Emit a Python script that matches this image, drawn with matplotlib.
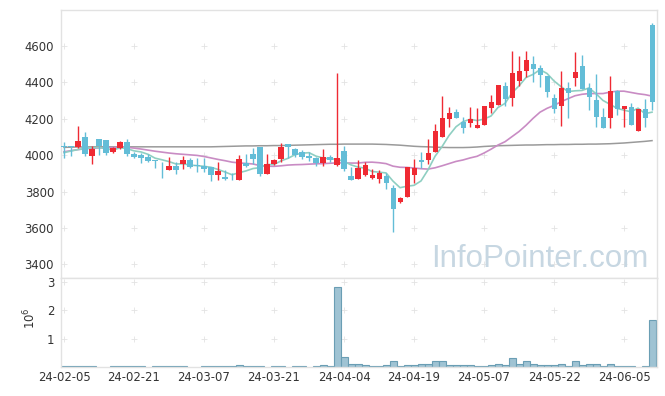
import matplotlib
matplotlib.use("Agg")
import matplotlib.pyplot as plt
import numpy as np

dates = ("24-02-05 24-02-06 24-02-07 24-02-08 24-02-13 24-02-14 24-02-15 24-02-16 24-02-19 24-02-20 "
         "24-02-21 24-02-22 24-02-23 24-02-26 24-02-27 24-02-28 24-02-29 24-03-04 24-03-05 24-03-06 "
         "24-03-07 24-03-08 24-03-11 24-03-12 24-03-13 24-03-14 24-03-15 24-03-18 24-03-19 24-03-20 "
         "24-03-21 24-03-22 24-03-25 24-03-26 24-03-27 24-03-28 24-03-29 24-04-01 24-04-02 24-04-03 "
         "24-04-04 24-04-05 24-04-08 24-04-09 24-04-11 24-04-12 24-04-15 24-04-16 24-04-17 24-04-18 "
         "24-04-19 24-04-22 24-04-23 24-04-24 24-04-25 24-04-26 24-04-29 24-04-30 24-05-02 24-05-03 "
         "24-05-07 24-05-08 24-05-09 24-05-10 24-05-13 24-05-14 24-05-16 24-05-17 24-05-20 24-05-21 "
         "24-05-22 24-05-23 24-05-24 24-05-27 24-05-28 24-05-29 24-05-30 24-05-31 24-06-03 24-06-04 "
         "24-06-05 24-06-07 24-06-10 24-06-11 24-06-12").split()

opens = [4050, 4051, 4042, 4100, 3996, 4088, 4082, 4018, 4037, 4069,
         4005, 4000, 3987, 3971, 3963, 3918, 3940, 3949, 3973, 3945,
         3942, 3932, 3890, 3878, 3870, 3863, 3958, 4005, 4042, 3896,
         3951, 3978, 4060, 4033, 4015, 3996, 3982, 3958, 3987, 3945,
         4022, 3885, 3868, 3890, 3876, 3868, 3885, 3817, 3744, 3768,
         3890, 3971, 3973, 4018, 4097, 4199, 4234, 4183, 4177, 4150,
         4164, 4259, 4274, 4378, 4315, 4406, 4460, 4499, 4475, 4433,
         4311, 4269, 4365, 4420, 4488, 4365, 4301, 4206, 4201, 4353,
         4250, 4265, 4133, 4252, 4713]
highs = [4069, 4051, 4159, 4126, 4051, 4088, 4082, 4046, 4079, 4088,
         4018, 4013, 4005, 3971, 3963, 3987, 3963, 3995, 3982, 3982,
         3982, 3936, 3960, 3918, 3900, 4000, 4005, 4037, 4046, 4005,
         3980, 4064, 4060, 4037, 4027, 4018, 3991, 4033, 4000, 4451,
         4051, 3936, 3973, 3963, 3921, 3918, 3900, 3836, 3768, 3932,
         3976, 4018, 4086, 4168, 4325, 4265, 4250, 4210, 4263, 4260,
         4269, 4330, 4384, 4400, 4568, 4543, 4571, 4543, 4493, 4433,
         4332, 4460, 4402, 4563, 4548, 4396, 4444, 4256, 4433, 4356,
         4269, 4283, 4250, 4307, 4722]
lows = [3982, 3995, 4040, 3995, 3949, 4000, 4000, 4009, 4033, 3996,
        3982, 3954, 3960, 3927, 3872, 3918, 3896, 3921, 3927, 3909,
        3905, 3859, 3863, 3863, 3863, 3863, 3932, 3951, 3887, 3896,
        3945, 3960, 3982, 3991, 3976, 3969, 3942, 3942, 3963, 3942,
        3914, 3863, 3868, 3887, 3868, 3845, 3812, 3580, 3735, 3768,
        3845, 3927, 3951, 4018, 4097, 4152, 4201, 4119, 4155, 4148,
        4164, 4228, 4274, 4269, 4269, 4376, 4429, 4399, 4371, 4320,
        4228, 4161, 4205, 4378, 4360, 4247, 4155, 4150, 4150, 4219,
        4155, 4164, 4133, 4155, 4247]
closes = [4042, 4042, 4077, 4005, 4033, 4049, 4013, 4037, 4069, 4005,
          3991, 3985, 3969, 3967, 3960, 3940, 3918, 3973, 3936, 3942,
          3923, 3890, 3914, 3868, 3867, 3976, 3942, 3976, 3896, 3951,
          3973, 4046, 4042, 4000, 3991, 3985, 3954, 3991, 3973, 3982,
          3923, 3863, 3927, 3945, 3890, 3903, 3845, 3704, 3762, 3932,
          3927, 3963, 4009, 4132, 4201, 4228, 4205, 4150, 4196, 4164,
          4269, 4292, 4384, 4307, 4451, 4460, 4521, 4471, 4438, 4347,
          4252, 4365, 4338, 4457, 4360, 4320, 4206, 4150, 4353, 4250,
          4269, 4164, 4250, 4201, 4292]

ma5 = [4013, 4022, 4030, 4036, 4040, 4041, 4035, 4027, 4040, 4035,
       4023, 4017, 4004, 3983, 3974, 3964, 3951, 3952, 3945, 3942,
       3938, 3933, 3921, 3907, 3892, 3903, 3913, 3926, 3931, 3948,
       3948, 3968, 3982, 4002, 4010, 4013, 3994, 3984, 3979, 3977,
       3965, 3946, 3934, 3928, 3910, 3906, 3902, 3857, 3821, 3829,
       3834, 3858, 3919, 3993, 4046, 4107, 4155, 4183, 4196, 4189,
       4197, 4214, 4261, 4283, 4341, 4379, 4425, 4442, 4468, 4447,
       4406, 4375, 4348, 4352, 4354, 4368, 4336, 4299, 4278, 4256,
       4246, 4237, 4257, 4227, 4235]
ma20 = [4018, 4024, 4030, 4034, 4037, 4039, 4040, 4041, 4042, 4042,
        4038, 4033, 4027, 4021, 4016, 4011, 4007, 4004, 4001, 3998,
        3992, 3984, 3976, 3969, 3961, 3957, 3954, 3951, 3942, 3939,
        3938, 3941, 3945, 3947, 3948, 3950, 3952, 3953, 3955, 3957,
        3957, 3956, 3956, 3960, 3961, 3958, 3953, 3939, 3933, 3932,
        3929, 3925, 3923, 3930, 3941, 3953, 3965, 3973, 3984, 3993,
        4011, 4032, 4055, 4073, 4101, 4129, 4163, 4201, 4235, 4256,
        4272, 4292, 4309, 4325, 4333, 4337, 4337, 4337, 4345, 4350,
        4350, 4343, 4336, 4331, 4323]
ma_long = [4042, 4043, 4044, 4044, 4045, 4045, 4045, 4045, 4045, 4045,
           4045, 4045, 4045, 4045, 4045, 4045, 4045, 4045, 4045, 4045,
           4045, 4045, 4046, 4047, 4048, 4049, 4050, 4050, 4051, 4051,
           4052, 4052, 4053, 4054, 4055, 4056, 4057, 4058, 4059, 4059,
           4060, 4060, 4060, 4060, 4060, 4059, 4058, 4056, 4054, 4051,
           4048, 4046, 4045, 4043, 4042, 4041, 4041, 4041, 4042, 4044,
           4047, 4049, 4051, 4052, 4053, 4054, 4055, 4055, 4056, 4057,
           4057, 4058, 4058, 4059, 4059, 4060, 4060, 4061, 4062, 4064,
           4066, 4069, 4072, 4075, 4079]

volume = [20000, 20000, 20000, 20000, 20000, 0, 0, 20000, 20000, 20000,
          20000, 20000, 0, 20000, 20000, 20000, 20000, 20000, 0, 0,
          20000, 20000, 20000, 20000, 20000, 60000, 20000, 20000, 20000, 0,
          20000, 20000, 0, 20000, 20000, 0, 20000, 60000, 20000, 2840000,
          350000, 120000, 120000, 60000, 20000, 20000, 60000, 200000, 20000, 60000,
          60000, 90000, 90000, 200000, 200000, 60000, 60000, 60000, 60000, 20000,
          20000, 60000, 90000, 60000, 300000, 90000, 200000, 90000, 60000, 60000,
          60000, 90000, 20000, 220000, 60000, 90000, 90000, 20000, 120000, 20000,
          20000, 20000, 0, 20000, 1670000]

price_ticks = [3400, 3600, 3800, 4000, 4200, 4400, 4600]
vol_ticks = [1, 2, 3]
date_tick_step = 10

RED = "#ef2a33"
BLUE = "#63bdd7"
TXT = "#333333"
SPINE = "#e2e2e2"

W, H = 665, 396
fig = plt.figure(figsize=(W / 100, H / 100), dpi=100)
ax = fig.add_axes([61 / W, 1 - 278 / H, (657 - 61) / W, (278 - 10) / H])
axv = fig.add_axes([61 / W, 1 - 367 / H, (657 - 61) / W, (367 - 278) / H], sharex=ax)

x = np.arange(len(dates))
o = np.array(opens, float)
c = np.array(closes, float)
hi = np.array(highs, float)
lo = np.array(lows, float)
up = c >= o
colors = np.where(up, RED, BLUE)

xt = x[::date_tick_step]

# grid "+" marks
for a, yts in ((ax, price_ticks), (axv, vol_ticks)):
    gx, gy = np.meshgrid(xt, yts)
    a.scatter(gx.ravel(), gy.ravel(), marker="+", s=16, linewidths=0.6,
              color="#e3e3e3", zorder=0)

# moving averages
ax.plot(x, ma_long, color="#9a9a9a", lw=1.1, zorder=1)
ax.plot(x, ma20, color="#c98cc4", lw=1.2, zorder=1)
ax.plot(x, ma5, color="#8fcfc2", lw=1.2, zorder=1)

# candles
ax.vlines(x, lo, hi, colors=colors, lw=1.0, zorder=2)
body_h = np.maximum(np.abs(c - o), 2.5)
ax.bar(x, body_h, bottom=np.minimum(o, c), width=0.72, color=colors,
       linewidth=0, zorder=3)

ax.set_xlim(-0.43, 84.71)
ax.set_ylim(3326, 4795)
ax.set_yticks(price_ticks)
ax.set_yticklabels([str(v) for v in price_ticks])
ax.tick_params(axis="y", length=0, pad=5, labelsize=8.4, labelcolor=TXT)
ax.tick_params(axis="x", length=0, labelbottom=False)

# watermark
fig.text(648 / W, 1 - 267 / H, "InfoPointer.com", ha="right", va="baseline",
         fontsize=22.5, family="Liberation Sans", color="#c7d7e2", zorder=0)

# volume
vol = np.array(volume, float) / 1e6
mask = vol > 0
axv.bar(x[mask], vol[mask], width=1.0, color="#9fc3d3", edgecolor="#6a9eb4",
        linewidth=0.8, zorder=2)
axv.set_ylim(0, 3.14)
axv.set_yticks(vol_ticks)
axv.set_yticklabels([str(v) for v in vol_ticks])
axv.set_xticks(xt)
axv.set_xticklabels([dates[i] for i in xt])
axv.tick_params(axis="both", length=0, labelsize=8.4, labelcolor=TXT)
axv.tick_params(axis="y", pad=5)
axv.tick_params(axis="x", pad=3)
fig.text(30 / W, 1 - 318 / H, r"$10^6$", rotation=90, ha="center", va="center",
         fontsize=8.4, color=TXT)

for a in (ax, axv):
    for s in a.spines.values():
        s.set_color(SPINE)
        s.set_linewidth(1.0)
    a.set_facecolor("white")

fig.savefig("out.png", dpi=100, facecolor="white")
